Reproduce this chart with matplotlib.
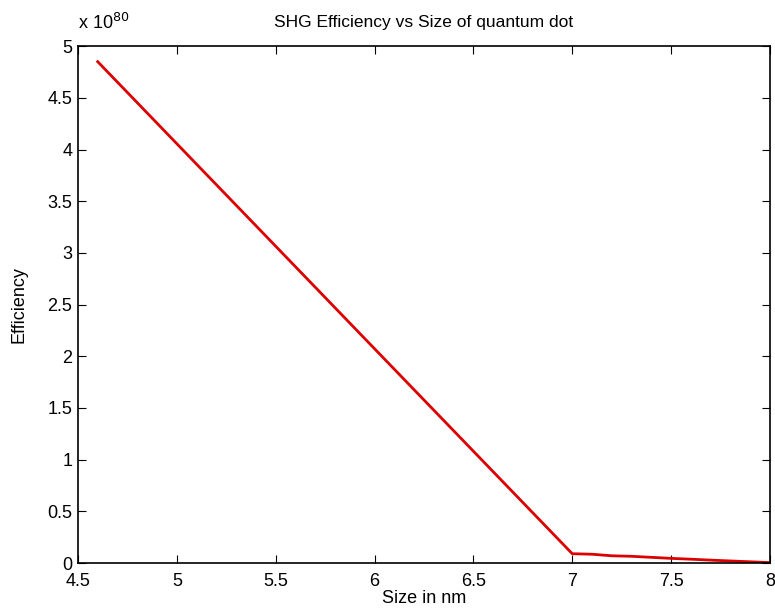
import numpy as np
import matplotlib.pyplot as plt

plt.rcParams['font.family'] = ['Liberation Sans', 'DejaVu Sans']

# data (efficiency in units of 1e80)
size_nm = [4.6, 7.0, 7.1, 7.2, 7.3, 7.4, 7.5, 7.6, 7.7, 7.8, 7.9, 8.0]
efficiency = [4.85, 0.09, 0.085, 0.07, 0.065, 0.055, 0.045, 0.037, 0.028, 0.02, 0.012, 0.004]
x_ticks = [4.5, 5, 5.5, 6, 6.5, 7, 7.5, 8]
y_ticks = [0, 0.5, 1, 1.5, 2, 2.5, 3, 3.5, 4, 4.5, 5]

fig = plt.figure(figsize=(7.75, 6.16), dpi=100)
ax = fig.add_axes([0.1006, 0.086, 0.8929, 0.839])

ax.plot(size_nm, efficiency, color='#dd0000', linewidth=2)

ax.set_xlim(4.5, 8)
ax.set_ylim(0, 5)
ax.set_xticks(x_ticks)
ax.set_xticklabels(['4.5', '5', '5.5', '6', '6.5', '7', '7.5', '8'])
ax.set_yticks(y_ticks)
ax.set_yticklabels(['0', '0.5', '1', '1.5', '2', '2.5', '3', '3.5', '4', '4.5', '5'])
ax.tick_params(direction='in', top=True, right=True, length=6, labelsize=13, pad=4)
ax.tick_params(axis='x', pad=7)
for s in ax.spines.values():
    s.set_linewidth(1.2)

# offset text like matlab
ax.text(0.0, 1.025, r'x 10$^{80}$', transform=ax.transAxes, fontsize=13, ha='left', va='bottom')

ax.set_title('SHG Efficiency vs Size of quantum dot', fontsize=12.5, pad=14)
ax.set_xlabel('Size in nm', fontsize=13, labelpad=0)
ax.set_ylabel('Efficiency', fontsize=13, labelpad=14)

fig.savefig('out.png', dpi=100)
